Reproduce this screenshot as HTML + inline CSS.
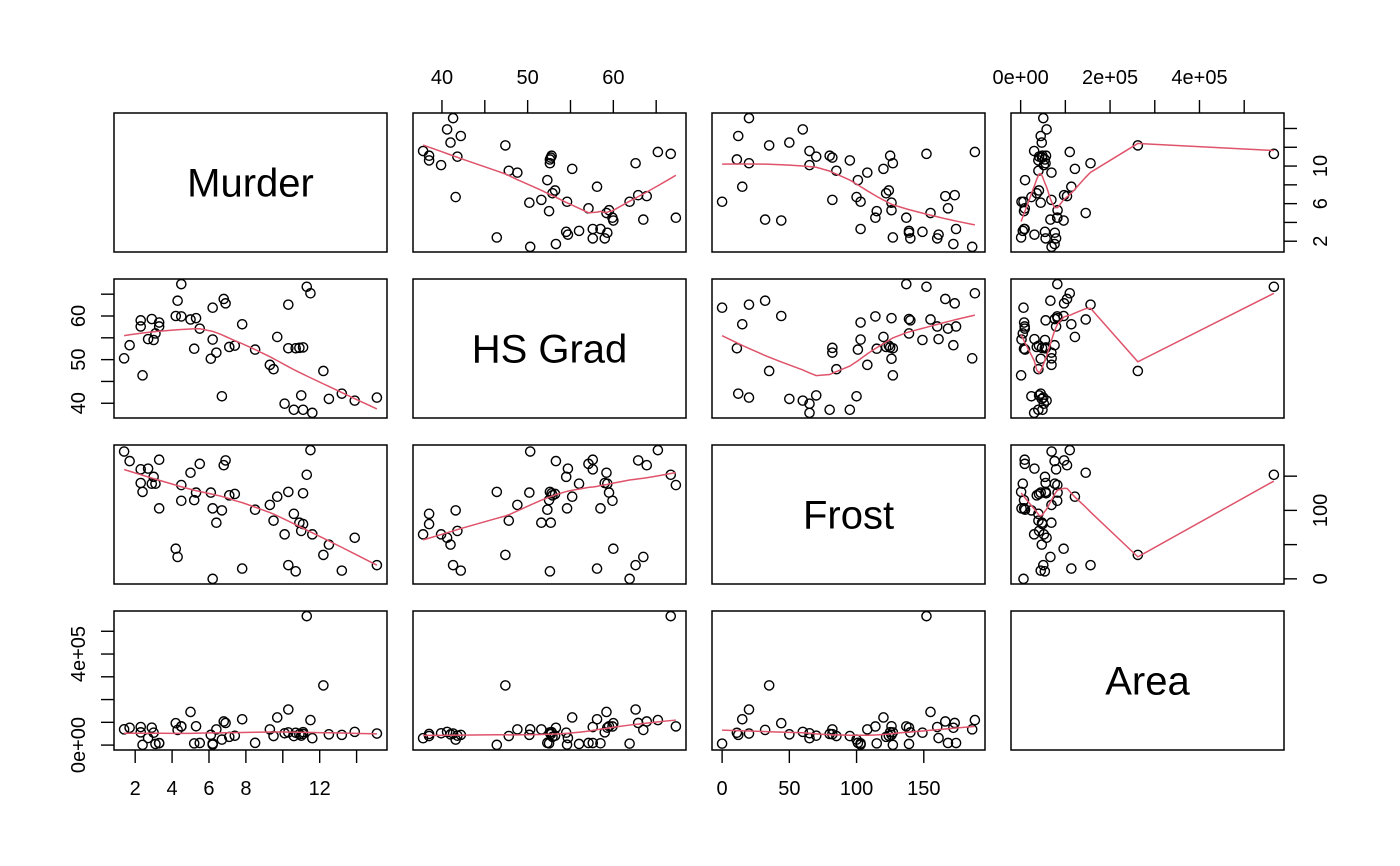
<!DOCTYPE html>
<html><head><meta charset="utf-8"><style>
html,body{margin:0;padding:0;background:#fff;}
svg{display:block;font-family:"Liberation Sans","DejaVu Sans",sans-serif;}
</style></head><body>
<svg id="chart" width="1400" height="866" viewBox="0 0 1400 866" xmlns="http://www.w3.org/2000/svg"></svg>
<script>
// state.x77 subset, 50 states
const varNames = ["Murder", "HS Grad", "Frost", "Area"];
const murder = [15.1,11.3,7.8,10.1,10.3,6.8,3.1,6.2,10.7,13.9,6.2,5.3,10.3,7.1,2.3,4.5,10.6,13.2,2.7,8.5,3.3,11.1,2.3,12.5,9.3,5.0,2.9,11.5,3.3,5.2,9.7,10.9,11.1,1.4,7.4,6.4,4.2,6.1,2.4,11.6,1.7,11.0,12.2,4.5,5.5,9.5,4.3,6.7,3.0,6.9];
const hsGrad = [41.3,66.7,58.1,39.9,62.6,63.9,56.0,54.6,52.6,40.6,61.9,59.5,52.6,52.9,59.0,59.9,38.5,42.2,54.7,52.3,58.5,52.8,57.6,41.0,48.8,59.2,59.3,65.2,57.6,52.5,55.2,52.7,38.5,50.3,53.2,51.6,60.0,50.2,46.4,37.8,53.3,41.8,47.4,67.3,57.1,47.8,63.5,41.6,54.5,62.9];
const frost = [20,152,15,65,20,166,139,103,11,60,0,126,127,122,140,114,95,12,161,101,103,125,160,50,108,155,139,188,174,115,120,82,80,186,124,82,44,126,127,65,172,70,35,137,168,85,32,100,149,173];
const area = [50708,566432,113417,51945,156361,103766,4862,1982,54090,58073,6425,82677,55748,36097,55941,81787,39650,44930,30920,9891,7826,56817,79289,47296,68995,145587,76483,109889,9027,7521,121412,47831,48798,69273,40975,68782,96184,44966,1049,30225,75955,41328,262134,82096,9267,39780,66570,24070,54464,97203];
const murderTicks = [2,4,6,8,10,12,14];
const murderTickLabels = ["2","4","6","8","","12",""];
const murderRightTickLabels = ["2","","6","","10","",""];
const hsTicks = [40,45,50,55,60,65];
const hsTickLabels = ["40","","50","","60",""];
const frostTicks = [0,50,100,150];
const frostTickLabels = ["0","50","100","150"];
const frostRightTickLabels = ["0","","100",""];
const areaTicks = [0,100000,200000,300000,400000,500000];
const areaTopLabels = ["0e+00","","2e+05","","4e+05",""];
const areaLeftLabels = ["0e+00","","","","4e+05",""];

const data = [murder, hsGrad, frost, area];
const colL = [114,413,712,1011], rowT = [113,279,445,611], PW = 273, PH = 139;
const NS = "http://www.w3.org/2000/svg";
const svg = document.getElementById("chart");
function mk(tag, attrs, parent){const e=document.createElementNS(NS,tag);for(const k in attrs)e.setAttribute(k,attrs[k]);(parent||svg).appendChild(e);return e;}

function ext(v){const mn=Math.min(...v),mx=Math.max(...v),d=(mx-mn)*0.04;return [mn-d,mx+d];}
const ranges = data.map(ext);
function sx(j,v){const r=ranges[j];return colL[j]+(v-r[0])/(r[1]-r[0])*PW;}
function sy(i,v){const r=ranges[i];return rowT[i]+PH-(v-r[0])/(r[1]-r[0])*PH;}

// R clowess
function lowess(xin,yin,f,iter){
  const n=xin.length;const idx=xin.map((_,i)=>i).sort((a,b)=>xin[a]-xin[b]||a-b);
  const x=idx.map(i=>xin[i]),y=idx.map(i=>yin[i]);
  const delta=0.01*(x[n-1]-x[0]);
  const ys=new Array(n).fill(0),rw=new Array(n).fill(1),res=new Array(n).fill(0);
  const ns=Math.max(Math.min(Math.floor(f*n+1e-7),n),2);
  function lowest(xs,nleft,nright,w,userw){
    const range=x[n-1]-x[0];const h=Math.max(xs-x[nleft],x[nright]-xs);const h9=0.999*h,h1=0.001*h;
    let a=0,j=nleft;
    while(j<n){w[j]=0;const r=Math.abs(x[j]-xs);
      if(r<=h9){if(r<=h1)w[j]=1;else w[j]=Math.pow(1-Math.pow(r/h,3),3);if(userw)w[j]*=rw[j];a+=w[j];}
      else if(x[j]>xs)break;j++;}
    const nrt=j-1;if(a<=0)return null;
    for(j=nleft;j<=nrt;j++)w[j]/=a;
    if(h>0){a=0;for(j=nleft;j<=nrt;j++)a+=w[j]*x[j];let b=xs-a;let c=0;
      for(j=nleft;j<=nrt;j++)c+=w[j]*(x[j]-a)*(x[j]-a);
      if(Math.sqrt(c)>0.001*range){b/=c;for(j=nleft;j<=nrt;j++)w[j]*=(b*(x[j]-a)+1);}}
    let s=0;for(j=nleft;j<=nrt;j++)s+=w[j]*y[j];return s;
  }
  let it=1;
  while(it<=iter+1){
    let nleft=0,nright=ns-1,last=-1,i=0;
    for(;;){
      if(nright<n-1){const d1=x[i]-x[nleft],d2=x[nright+1]-x[i];if(d1>d2){nleft++;nright++;continue;}}
      const r=lowest(x[i],nleft,nright,res,it>1);ys[i]=(r===null)?y[i]:r;
      if(last<i-1){const den=x[i]-x[last];for(let j=last+1;j<i;j++){const al=(x[j]-x[last])/den;ys[j]=al*ys[i]+(1-al)*ys[last];}}
      last=i;const cut=x[last]+delta;
      for(i=last+1;i<n;i++){if(x[i]>cut)break;if(x[i]===x[last]){ys[i]=ys[last];last=i;}}
      i=Math.max(last+1,i-1);
      if(last>=n-1)break;
    }
    for(let k=0;k<n;k++)res[k]=y[k]-ys[k];
    let sc=0;for(let k=0;k<n;k++)sc+=Math.abs(res[k]);sc/=n;
    if(it>iter)break;
    const ar=res.map(Math.abs).sort((a,b)=>a-b);
    const m1=Math.floor(n/2);let cmad;
    if(n%2===0)cmad=3*(ar[m1]+ar[m1-1]);else cmad=6*ar[m1];
    if(cmad<1e-7*sc)break;
    const c9=0.999*cmad,c1=0.001*cmad;
    for(let k=0;k<n;k++){const r=Math.abs(res[k]);rw[k]=r<=c1?1:(r<=c9?Math.pow(1-Math.pow(r/cmad,2),2):0);}
    it++;
  }
  return {x:x,y:ys};
}

const slug = ["murder","hs-grad","frost","area"];
for(let i=0;i<4;i++){for(let j=0;j<4;j++){
  const g=mk("g",{});
  
  
  const box=mk("rect",{x:colL[j],y:rowT[i],width:PW,height:PH,fill:"none",stroke:"#000","stroke-width":1.5},g);
  
  
  if(i===j){
    const t=mk("text",{x:colL[j]+PW/2,y:rowT[i]+PH/2+14,"text-anchor":"middle","font-size":40},g);
    t.textContent=varNames[i];
    
    
    continue;
  }
  const xs=data[j],ys=data[i];
  for(let k=0;k<xs.length;k++){
    const c=mk("circle",{cx:sx(j,xs[k]),cy:sy(i,ys[k]),r:4.6,fill:"none",stroke:"#000","stroke-width":1.4},g);
    
    
  }
  const lw=lowess(xs,ys,2/3,3);
  const pts=lw.x.map((v,k)=>sx(j,v).toFixed(2)+","+sy(i,lw.y[k]).toFixed(2)).join(" ");
  const pl=mk("polyline",{points:pts,fill:"none",stroke:"#DF536B","stroke-width":1.5},g);
  
  
}}

function hAxis(j,ticks,labels,side){
  const g=mk("g",{});
  
  
  const y0=side==="top"?rowT[0]:rowT[3]+PH;const dir=side==="top"?-1:1;
  ticks.forEach((t,k)=>{const x=sx(j,t);
    mk("line",{x1:x,x2:x,y1:y0,y2:y0+dir*13,stroke:"#000","stroke-width":1.4},g);
    if(labels[k]){const tx=mk("text",{x:x,y:side==="top"?y0-29:y0+45,"text-anchor":"middle","font-size":20},g);tx.textContent=labels[k];
      
      }
  });
}
function vAxis(i,ticks,labels,side){
  const g=mk("g",{});
  
  
  const x0=side==="left"?colL[0]:colL[3]+PW;const dir=side==="left"?-1:1;
  ticks.forEach((t,k)=>{const y=sy(i,t);
    mk("line",{x1:x0,x2:x0+dir*13,y1:y,y2:y,stroke:"#000","stroke-width":1.4},g);
    if(labels[k]){const lx=side==="left"?x0-36:x0+36;
      const tx=mk("text",{x:lx,y:y,"text-anchor":"middle","font-size":20,transform:"rotate(-90 "+lx+" "+y+")",dy:"0.35em"},g);tx.textContent=labels[k];
      
      }
  });
}
hAxis(1,hsTicks,hsTickLabels,"top");
hAxis(3,areaTicks,areaTopLabels,"top");
hAxis(0,murderTicks,murderTickLabels,"bottom");
hAxis(2,frostTicks,frostTickLabels,"bottom");
vAxis(0,murderTicks,murderRightTickLabels,"right");
vAxis(2,frostTicks,frostRightTickLabels,"right");
vAxis(1,hsTicks,hsTickLabels,"left");
vAxis(3,areaTicks,areaLeftLabels,"left");
</script>
</body></html>
